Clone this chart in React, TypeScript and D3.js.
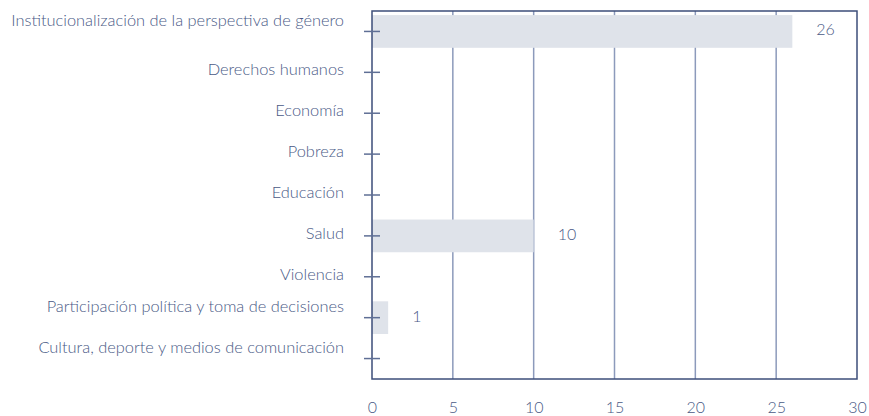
import React, { useRef, useEffect } from "react";
import { select, scaleLinear, scaleBand, axisBottom } from "d3";

const categories = [
  "Institucionalización de la perspectiva de género",
  "Derechos humanos",
  "Economía",
  "Pobreza",
  "Educación",
  "Salud",
  "Violencia",
  "Participación política y toma de decisiones",
  "Cultura, deporte y medios de comunicación",
];
const values = [26, 0, 0, 0, 0, 10, 0, 1, 0];
const xTicks = [0, 5, 10, 15, 20, 25, 30];

const W = 869;
const H = 416;
const margin = { left: 372, right: 12, top: 11, bottom: 37 };
const textColor = "#4a5a86";
const axisColor = "#3d4e7a";
const gridColor = "#8c9abb";

function App() {
  const svgRef = useRef<SVGSVGElement>(null);

  useEffect(() => {
    const svg = select(svgRef.current);
    svg.selectAll("*").remove();

    const x = scaleLinear().domain([0, 30]).range([margin.left, W - margin.right]);
    const y = scaleBand()
      .domain(categories)
      .range([margin.top, H - margin.bottom])
      .paddingInner(0.2)
      .paddingOuter(0.1);

    const top = margin.top;
    const bottom = H - margin.bottom;

    // rejilla vertical
    svg.append("g")
      .selectAll("line")
      .data(xTicks.slice(1, -1))
      .join("line")
      .attr("x1", (d) => x(d))
      .attr("x2", (d) => x(d))
      .attr("y1", top)
      .attr("y2", bottom)
      .attr("stroke", gridColor)
      .attr("stroke-width", 1.5);

    // barras
    svg.append("g")
      .selectAll("rect")
      .data(values)
      .join("rect")
      .attr("x", x(0))
      .attr("y", (d, i) => y(categories[i])!)
      .attr("width", (d) => x(d) - x(0))
      .attr("height", y.bandwidth())
      .attr("fill", "#dfe3ea");

    // marco
    svg.append("rect")
      .attr("x", x(0))
      .attr("y", top)
      .attr("width", x(30) - x(0))
      .attr("height", bottom - top)
      .attr("fill", "none")
      .attr("stroke", axisColor)
      .attr("stroke-width", 1.5);

    // marcas del eje y
    svg.append("g")
      .selectAll("line")
      .data(categories)
      .join("line")
      .attr("x1", x(0) - 8)
      .attr("x2", x(0) + 8)
      .attr("y1", (d) => y(d)! + y.bandwidth() / 2)
      .attr("y2", (d) => y(d)! + y.bandwidth() / 2)
      .attr("stroke", "#5f6f95")
      .attr("stroke-width", 1.5);

    // etiquetas de categoría (las largas van un poco más arriba)
    svg.append("g")
      .selectAll("text")
      .data(categories)
      .join("text")
      .attr("x", 344)
      .attr("y", (d) => y(d)! + y.bandwidth() / 2 - (d.length > 30 ? 10 : 1))
      .attr("text-anchor", "end")
      .attr("dominant-baseline", "middle")
      .attr("fill", textColor)
      .attr("font-size", 16.4)
      .attr("font-weight", 300)
      .text((d) => d);

    // valores
    svg.append("g")
      .selectAll("text")
      .data(values.map((v, i) => ({ v, c: categories[i] })).filter((d) => d.v > 0))
      .join("text")
      .attr("x", (d) => x(d.v) + 24)
      .attr("y", (d) => y(d.c)! + y.bandwidth() / 2)
      .attr("dominant-baseline", "middle")
      .attr("fill", textColor)
      .attr("font-size", 16)
      .attr("font-weight", 300)
      .text((d) => d.v);

    // eje x
    const xAxis = axisBottom(x).tickValues(xTicks).tickSize(0).tickPadding(23);
    const gx = svg.append("g")
      .attr("transform", `translate(0,${bottom})`)
      .call(xAxis);
    gx.select(".domain").remove();
    gx.selectAll("text")
      .attr("fill", textColor)
      .attr("font-size", 16)
      .attr("font-weight", 300)
      .attr("font-family", "Lato, sans-serif");
  }, []);

  return (
    <div style={{ position: "absolute", left: 0, top: 0 }}>
      <svg ref={svgRef} width={W} height={H} style={{ display: "block", fontFamily: "Lato, sans-serif" }} />
    </div>
  );
}

export default App;
